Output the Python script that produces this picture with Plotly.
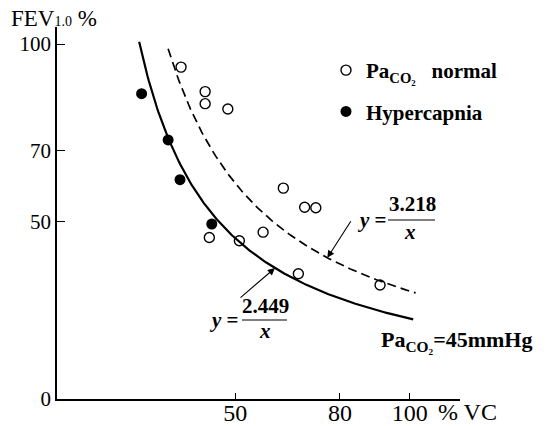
import numpy as np
import plotly.graph_objects as go

# ---- data ----
normal_x = [34.5, 41.4, 41.4, 47.9, 63.8, 69.9, 73.1, 58.0, 68.1, 91.5, 42.6, 51.2]
normal_y = [93.5, 86.6, 83.2, 81.7, 59.4, 54.0, 53.9, 47.0, 35.3, 32.1, 45.5, 44.6]
hyper_x = [23.2, 30.8, 34.2, 43.3]
hyper_y = [86.0, 73.0, 61.8, 49.3]

# fitted curves y = k / x (k as drawn on this chart's scale)
curve_labels = ["3.218", "2.449"]
curve_k = [3040.0, 2265.0]
curve_xstart = [30.8, 22.5]
curve_xend = [101.7, 101.0]

x_ticks = [50, 80, 100]
y_ticks = [0, 50, 70, 100]

W, H = 549, 426
ML, MR, MT, MB = 57, 89, 27, 27
PW, PH = W - ML - MR, H - MT - MB


def px(xp):
    return (xp - ML) / PW


def py(yp):
    return (H - MB - yp) / PH


SERIF = "Liberation Serif"
fig = go.Figure()

# curves
for i, (k, x0, x1) in enumerate(zip(curve_k, curve_xstart, curve_xend)):
    xs = np.linspace(x0, x1, 200)
    fig.add_trace(go.Scatter(
        x=xs, y=k / xs, mode="lines", showlegend=False, hoverinfo="skip",
        line=dict(color="black", width=1.7 if i == 0 else 2.2,
                  dash="9px,5px" if i == 0 else "solid")))

fig.add_trace(go.Scatter(
    x=normal_x, y=normal_y, mode="markers",
    name="<b>Pa<sub>CO₂</sub>\u00a0\u00a0 normal</b>", legendgroup="a",
    marker=dict(symbol="circle-open", size=10, color="black", line=dict(width=1.4))))
fig.add_trace(go.Scatter(
    x=hyper_x, y=hyper_y, mode="markers", name="<b>Hypercapnia</b>", legendgroup="b",
    marker=dict(symbol="circle", size=11, color="black")))

ann = []
# axis titles
ann.append(dict(xref="paper", yref="paper", x=px(9), y=py(18), xanchor="left", yanchor="middle",
                text="FEV<span style='font-size:14px'>1.0</span> %", showarrow=False,
                font=dict(family=SERIF, size=23, color="black")))
ann.append(dict(xref="paper", yref="paper", x=px(436), y=py(412), xanchor="left", yanchor="middle",
                text="% VC", showarrow=False, font=dict(family=SERIF, size=24, color="black")))
# equation labels
eq_pos = [dict(num=(412, 204), bar=(388, 435, 220), xx=(410, 232), yeq=(372, 220)),
          dict(num=(265.5, 306), bar=(242, 287, 320), xx=(265, 331), yeq=(224, 320))]
shapes = []
for lab, p in zip(curve_labels, eq_pos):
    ann.append(dict(xref="paper", yref="paper", x=px(p["num"][0]), y=py(p["num"][1]),
                    xanchor="center", yanchor="middle", text="<b>%s</b>" % lab, showarrow=False,
                    font=dict(family=SERIF, size=21, color="black")))
    ann.append(dict(xref="paper", yref="paper", x=px(p["xx"][0]), y=py(p["xx"][1]),
                    xanchor="center", yanchor="middle", text="<b><i>x</i></b>", showarrow=False,
                    font=dict(family=SERIF, size=21, color="black")))
    ann.append(dict(xref="paper", yref="paper", x=px(p["yeq"][0]), y=py(p["yeq"][1]),
                    xanchor="center", yanchor="middle", text="<b><i>y</i> =</b>", showarrow=False,
                    font=dict(family=SERIF, size=21, color="black")))
    shapes.append(dict(type="line", xref="paper", yref="paper",
                       x0=px(p["bar"][0]), x1=px(p["bar"][1]), y0=py(p["bar"][2]), y1=py(p["bar"][2]),
                       line=dict(color="black", width=1.2)))
# arrows pointing to the curves
arrow_tip_x = [76.4, 61.4]
arrow_tail = [(83.4, 50.5), (51.1, 28.2)]
for k, tx, (ax, ay) in zip(curve_k, arrow_tip_x, arrow_tail):
    ann.append(dict(x=tx, y=k / tx, ax=ax, ay=ay, xref="x", yref="y", axref="x", ayref="y",
                    text="", showarrow=True, arrowhead=2, arrowsize=1.3, arrowwidth=1.1,
                    arrowcolor="black", standoff=0))
# PaCO2 = 45mmHg
ann.append(dict(xref="paper", yref="paper", x=px(379), y=py(341), xanchor="left", yanchor="middle",
                text="<b>Pa<sub>CO₂</sub>=45mmHg</b>", showarrow=False,
                font=dict(family=SERIF, size=22, color="black")))

fig.update_layout(
    width=W, height=H, margin=dict(l=ML, r=MR, t=MT, b=MB, autoexpand=False),
    paper_bgcolor="white", plot_bgcolor="white",
    font=dict(family=SERIF, color="black"),
    xaxis=dict(range=[-1.03, 114.4], tickvals=x_ticks, ticktext=[str(v) for v in x_ticks],
               automargin=False, ticklabelstandoff=-9,
               showgrid=False, zeroline=False, showline=True, linecolor="black", linewidth=1.5,
               ticks="inside", ticklen=6, tickwidth=1.3, tickcolor="black",
               tickfont=dict(family=SERIF, size=24, color="black")),
    yaxis=dict(range=[0, 104.8], tickvals=y_ticks, ticktext=[str(v) for v in y_ticks],
               automargin=False,
               showgrid=False, zeroline=False, showline=True, linecolor="black", linewidth=1.5,
               ticks="inside", ticklen=8, tickwidth=1.3, tickcolor="black",
               tickfont=dict(family=SERIF, size=21, color="black")),
    legend=dict(x=px(326), y=py(50), xanchor="left", yanchor="top", tracegroupgap=11,
                bgcolor="rgba(0,0,0,0)", font=dict(family=SERIF, size=21, color="black")),
    annotations=ann, shapes=shapes,
)

fig.write_html("out.html")
